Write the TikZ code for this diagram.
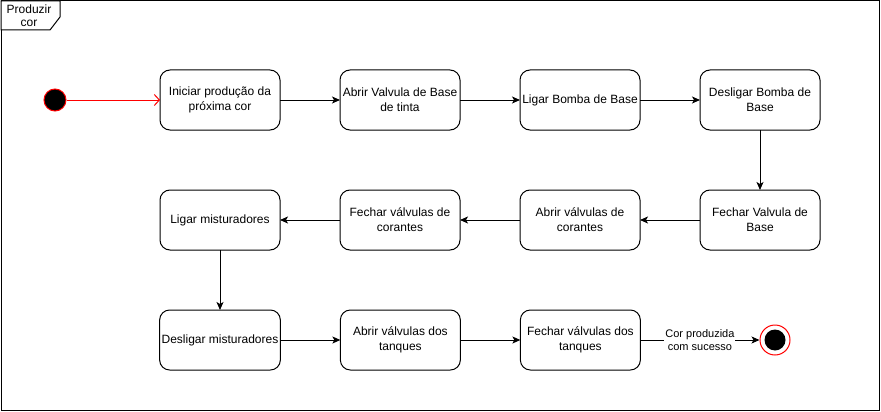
\documentclass[tikz,border=0pt]{standalone}
\usepackage{fontspec}
\setmainfont{Liberation Sans}
\usetikzlibrary{positioning,arrows.meta}

\begin{document}
\begin{tikzpicture}[x=1pt, y=-1pt,
                    acaonode/.style={rectangle, rounded corners=10pt, draw=black, fill=white, line width=1pt, minimum width=120pt, minimum height=60pt, inner sep=2pt, outer sep=0pt, align=center, font=\fontsize{12}{15}\selectfont},
                    inicionode/.style={circle, draw=red, fill=black, line width=1pt, minimum size=22pt, inner sep=0pt},
                    fimnode/.style={circle, draw=red, fill=white, line width=1pt, minimum size=30pt, inner sep=0pt, path picture={\fill[black] (path picture bounding box.center) circle (10.5pt);}},
                    seta/.style={line width=1pt, -{Stealth[length=8pt, width=7pt, inset=2pt]}},
                ]
                    \useasboundingbox (0,0) rectangle (881,412);

                    %Frame
                    \draw[line width=1pt] (1,1) rectangle (879,410);
                    \draw[line width=1pt, fill=white] (1,1) -- (60,1) -- (60,17) -- (50,30) -- (1,30) -- cycle;
                    \node[align=center, font=\fontsize{12}{13}\selectfont](titulo) at (29,15.5) {Produzir\\cor};

                    %Nodes
                    \node[inicionode](inicio) at (55,100) {};
                    \node[acaonode](iniciar) at (220,100) {Iniciar produção da\\próxima cor};
                    \node[acaonode](abrirbase)[right=60pt of iniciar] {Abrir Valvula de Base\\de tinta};
                    \node[acaonode](ligarbomba)[right=60pt of abrirbase] {Ligar Bomba de Base};
                    \node[acaonode](desligarbomba)[right=60pt of ligarbomba] {Desligar Bomba de\\Base};
                    \node[acaonode](fecharbase)[below=60pt of desligarbomba] {Fechar Valvula de\\Base};
                    \node[acaonode](abrircorantes)[left=60pt of fecharbase] {Abrir válvulas de\\corantes};
                    \node[acaonode](fecharcorantes)[left=60pt of abrircorantes] {Fechar válvulas de\\corantes};
                    \node[acaonode](ligarmist)[left=60pt of fecharcorantes] {Ligar misturadores};
                    \node[acaonode](desligarmist)[below=60pt of ligarmist] {Desligar misturadores};
                    \node[acaonode](abrirtanques)[right=60pt of desligarmist] {Abrir válvulas dos\\tanques};
                    \node[acaonode](fechartanques)[right=60pt of abrirtanques] {Fechar válvulas dos\\tanques};
                    \node[fimnode](fim) at (775,340) {};

                    %Lines
                    \draw[line width=1pt, draw=red, -{Straight Barb[length=5pt, width=11pt]}](inicio.east) -- (iniciar.west);
                    \draw[seta](iniciar.east) -- (abrirbase.west);
                    \draw[seta](abrirbase.east) -- (ligarbomba.west);
                    \draw[seta](ligarbomba.east) -- (desligarbomba.west);
                    \draw[seta](desligarbomba.south) -- (fecharbase.north);
                    \draw[seta](fecharbase.west) -- (abrircorantes.east);
                    \draw[seta](abrircorantes.west) -- (fecharcorantes.east);
                    \draw[seta](fecharcorantes.west) -- (ligarmist.east);
                    \draw[seta](ligarmist.south) -- (desligarmist.north);
                    \draw[seta](desligarmist.east) -- (abrirtanques.west);
                    \draw[seta](abrirtanques.east) -- (fechartanques.west);
                    \draw[seta](fechartanques.east) -- node[fill=white, align=center, inner sep=1pt, font=\fontsize{11}{13}\selectfont]{Cor produzida\\com sucesso} (fim.west);
                \end{tikzpicture}
\end{document}
